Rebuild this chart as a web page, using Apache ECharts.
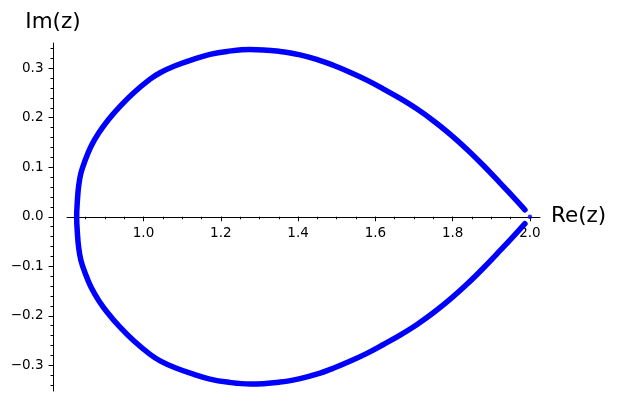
<!DOCTYPE html>
<html>
<head>
<meta charset="utf-8">
<script src="https://cdn.jsdelivr.net/npm/echarts@6/dist/echarts.min.js"></script>
<style>
  html, body { margin: 0; padding: 0; background: #fff; }
  #chart { width: 617px; height: 401px; }
</style>
</head>
<body>
<div id="chart"></div>
<script>
const upperRe = [1.987, 1.966, 1.923, 1.879, 1.836, 1.793, 1.750, 1.707, 1.664, 1.621, 1.578, 1.534, 1.491, 1.448, 1.405, 1.353, 1.276,
                 1.216, 1.172, 1.129, 1.082, 1.043, 1.017, 0.974, 0.938, 0.908, 0.884, 0.864, 0.849, 0.838, 0.832, 0.829, 0.827]
const upperIm = [0.014, 0.032, 0.068, 0.104, 0.137, 0.167, 0.194, 0.218, 0.239, 0.258, 0.276, 0.292, 0.306, 0.318, 0.327, 0.334, 0.338,
                 0.334, 0.328, 0.318, 0.305, 0.291, 0.278, 0.250, 0.222, 0.195, 0.169, 0.142, 0.114, 0.088, 0.061, 0.034, 0.000]
// lower arm, from the leftmost point back to the corner
const lowerRe = [0.829, 0.832, 0.838, 0.849, 0.864, 0.884, 0.908, 0.938, 0.974, 1.017, 1.043, 1.082, 1.129, 1.172, 1.216, 1.276,
                 1.353, 1.405, 1.448, 1.491, 1.534, 1.578, 1.621, 1.664, 1.707, 1.750, 1.793, 1.836, 1.879, 1.923, 1.966, 1.987]
const lowerIm = [-0.034, -0.061, -0.088, -0.114, -0.142, -0.169, -0.195, -0.222, -0.250, -0.278, -0.291, -0.305, -0.318, -0.328, -0.334, -0.338,
                 -0.334, -0.327, -0.318, -0.306, -0.292, -0.276, -0.258, -0.239, -0.218, -0.194, -0.167, -0.137, -0.104, -0.068, -0.032, -0.014]
const cornerPoint = [[2.0, 0.0]]

// ticks
const xMajor = [1.0, 1.2, 1.4, 1.6, 1.8, 2.0]
const xMinor = [0.85, 0.9, 0.95, 1.0, 1.05, 1.1, 1.15, 1.2, 1.25, 1.3, 1.35, 1.4, 1.45, 1.5, 1.55, 1.6, 1.65, 1.7, 1.75, 1.8, 1.85, 1.9, 1.95, 2.0]
const yMajor = [-0.3, -0.2, -0.1, 0.0, 0.1, 0.2, 0.3]
const yMinor = [-0.34, -0.32, -0.3, -0.28, -0.26, -0.24, -0.22, -0.2, -0.18, -0.16, -0.14, -0.12, -0.1, -0.08, -0.06, -0.04, -0.02, 0,
                0.02, 0.04, 0.06, 0.08, 0.1, 0.12, 0.14, 0.16, 0.18, 0.2, 0.22, 0.24, 0.26, 0.28, 0.3, 0.32, 0.34]

const xMin = 0.802, xMax = 2.026
const yMin = -0.352, yMax = 0.351

const chart = echarts.init(document.getElementById('chart'), null, { renderer: 'canvas' })

const font = 'DejaVu Sans'
const gridTop = 43, gridBottom = 10
const gridH = 401 - gridTop - gridBottom
// move the x axis up from the grid bottom to y = 0 (v6 keeps labels at the edge with onZero)
const xOffset = -gridH * (0 - yMin) / (yMax - yMin)

let points = upperRe.map((re, i) => [re, upperIm[i]])
points = points.concat(lowerRe.map((re, i) => [re, lowerIm[i]]))

let option = {
  animation: false,
  backgroundColor: '#fff',
  grid: { left: 67, right: 77, top: gridTop, bottom: gridBottom, containLabel: false, outerBoundsMode: 'none' },
  xAxis: [
    {
      type: 'value', min: xMin, max: xMax, position: 'bottom', offset: xOffset,
      axisLine: { show: true, onZero: false, lineStyle: { color: '#000', width: 1 } },
      splitLine: { show: false },
      axisTick: { show: true, length: 4.5, customValues: xMajor, lineStyle: { color: '#000' } },
      axisLabel: {
        customValues: xMajor, margin: 10, color: '#000', fontFamily: font, fontSize: 13.5,
        formatter: v => v.toFixed(1)
      },
      name: 'Re(z)', nameLocation: 'end', nameGap: 11,
      nameTextStyle: { fontFamily: font, fontSize: 21.5, color: '#000', padding: [0, 0, 12, 0] }
    },
    {
      type: 'value', min: xMin, max: xMax, position: 'bottom', offset: xOffset,
      axisLine: { show: false, onZero: false },
      splitLine: { show: false },
      axisTick: { show: true, length: 2.5, customValues: xMinor, lineStyle: { color: '#000' } },
      axisLabel: { show: false }
    }
  ],
  yAxis: [
    {
      type: 'value', min: yMin, max: yMax, position: 'left', offset: 14,
      axisLine: { show: true, onZero: false, lineStyle: { color: '#000', width: 1 } },
      splitLine: { show: false },
      axisTick: { show: true, length: 4.5, customValues: yMajor, lineStyle: { color: '#000' } },
      axisLabel: {
        customValues: yMajor, margin: 9.5, color: '#000', fontFamily: font, fontSize: 13.5,
        formatter: v => v.toFixed(1).replace('-', '\u2212')
      },
      name: 'Im(z)', nameLocation: 'end', nameGap: 10,
      nameTextStyle: { fontFamily: font, fontSize: 21.5, color: '#000', align: 'center' }
    },
    {
      type: 'value', min: yMin, max: yMax, position: 'left', offset: 14,
      axisLine: { show: false, onZero: false },
      splitLine: { show: false },
      axisTick: { show: true, length: 2.5, customValues: yMinor, lineStyle: { color: '#000' } },
      axisLabel: { show: false }
    }
  ],
  series: [
    {
      type: 'line',
      xAxisIndex: 0, yAxisIndex: 0,
      data: points,
      smooth: 0.4,
      showSymbol: false,
      clip: false,
      lineStyle: { color: '#0000ff', width: 5.5, cap: 'round', join: 'round' }
    },
    {
      type: 'scatter',
      xAxisIndex: 0, yAxisIndex: 0,
      data: cornerPoint,
      symbolSize: 4.5,
      clip: false,
      itemStyle: { color: '#0000ff' }
    }
  ]
}

chart.setOption(option)
</script>
</body>
</html>
